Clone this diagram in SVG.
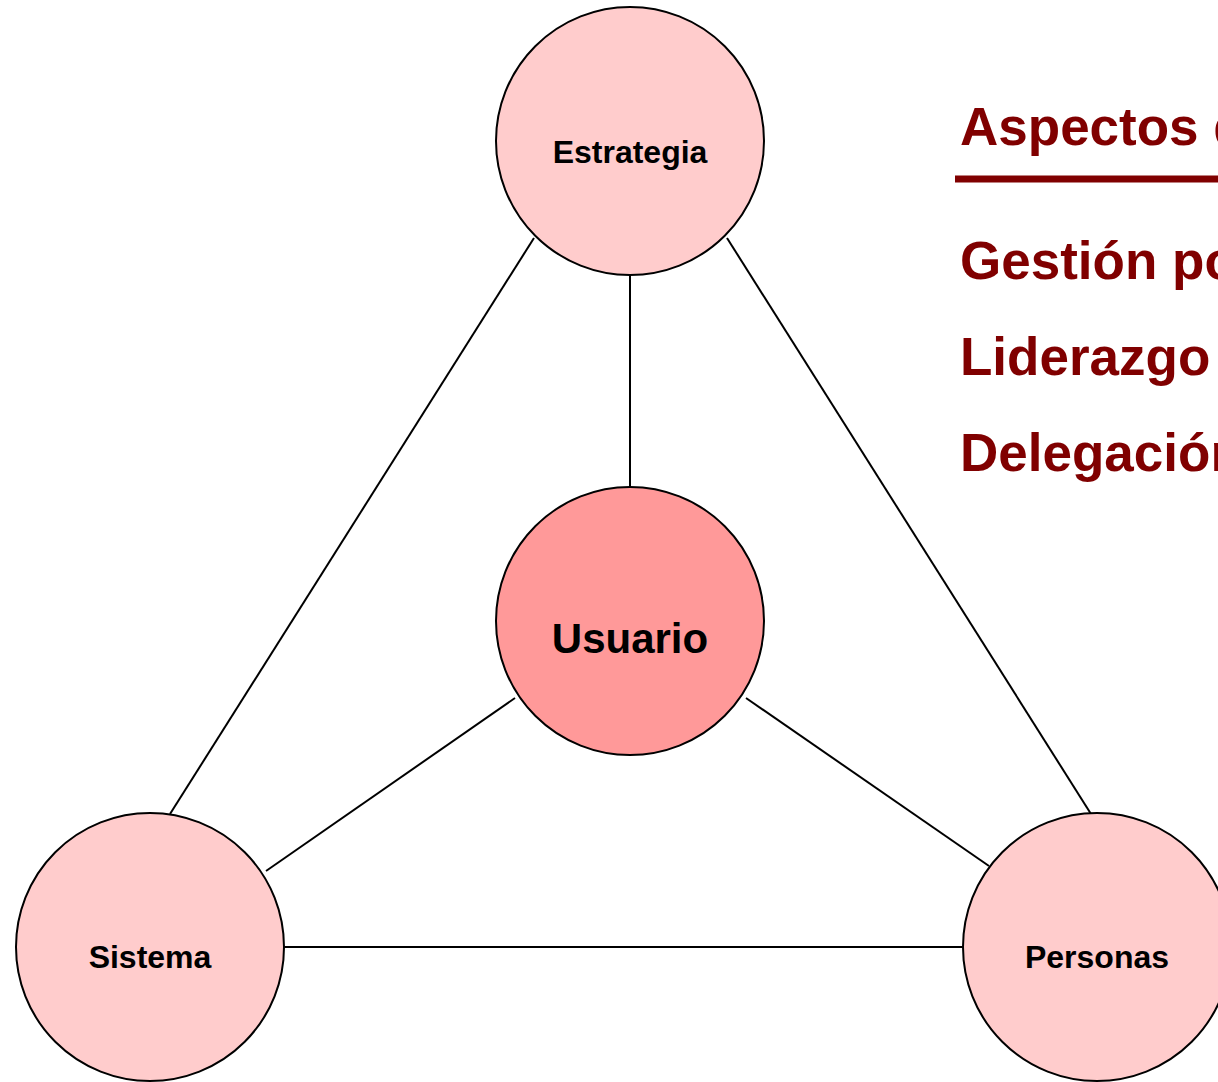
<svg xmlns="http://www.w3.org/2000/svg" width="1218" height="1082" viewBox="0 0 1218 1082">
<style>
.node{stroke:#000;stroke-width:2}
.outer{fill:#FFCCCC}
.center{fill:#FF9999}
.lbl{font-family:"Liberation Sans",Arial,sans-serif;font-weight:bold;fill:#000;text-anchor:middle}
.side{font-family:"Liberation Sans",Arial,sans-serif;font-weight:bold;fill:#800000;font-size:53px}
.conn line{stroke:#000;stroke-width:2}
</style>
<rect width="1218" height="1082" fill="#fff"/>
<g id="connectors" class="conn">
<line x1="630" y1="275" x2="630" y2="487"/>
<line x1="534" y1="238" x2="170" y2="814"/>
<line x1="727" y1="238" x2="1091" y2="814"/>
<line x1="515" y1="698" x2="266" y2="871"/>
<line x1="746" y1="698" x2="989" y2="866"/>
<line x1="284" y1="947" x2="963" y2="947"/>
</g>
<g id="estrategia">
<circle class="node outer" cx="630" cy="141" r="134"/>
<text class="lbl" x="630" y="163" font-size="32">Estrategia</text>
</g>
<g id="usuario">
<circle class="node center" cx="630" cy="621" r="134"/>
<text class="lbl" x="630" y="653" font-size="42">Usuario</text>
</g>
<g id="sistema">
<circle class="node outer" cx="150" cy="947" r="134"/>
<text class="lbl" x="150" y="968" font-size="32">Sistema</text>
</g>
<g id="personas">
<circle class="node outer" cx="1097" cy="947" r="134"/>
<text class="lbl" x="1097" y="968" font-size="32">Personas</text>
</g>
<g id="aspectos">
<text class="side" x="960" y="145">Aspectos d</text>
<rect x="955" y="175.5" width="263" height="7" fill="#800000"/>
<text class="side" x="960" y="279">Gestión po</text>
<text class="side" x="960" y="375">Liderazgo</text>
<text class="side" x="960" y="471">Delegación</text>
</g>
</svg>
